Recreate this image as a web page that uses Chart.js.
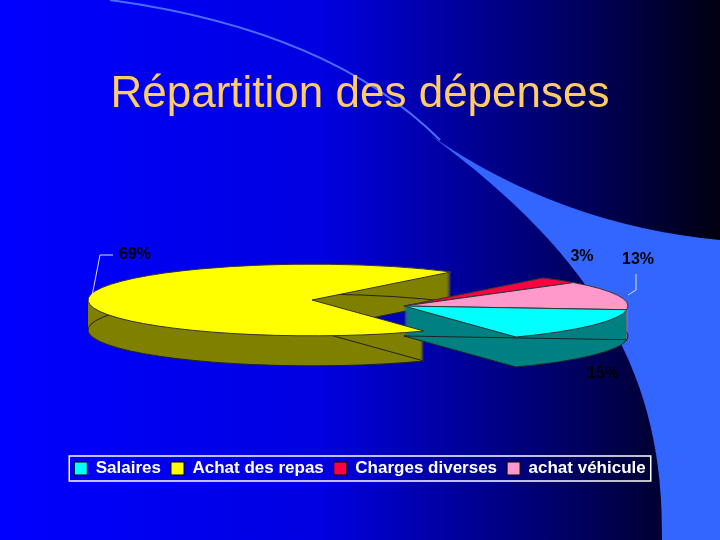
<!DOCTYPE html>
<html>
<head>
<meta charset="utf-8">
<script src="https://cdn.jsdelivr.net/npm/chart.js@4"></script>
<style>
  html, body { margin: 0; padding: 0; background: #0000f0; }
  #wrap { width: 720px; height: 540px; }
</style>
</head>
<body>
<div id="wrap"><canvas id="pie" width="720" height="540"></canvas></div>
<script>
const categories = ['Salaires', 'Achat des repas', 'Charges diverses', 'achat véhicule'];
const percentValues = [15, 69, 3, 13];
const topColors = ['#00ffff', '#ffff00', '#ff0040', '#ff99cc'];
const sideColors = ['#008080', '#808000', '#800020', '#996680'];

// geometry of the flattened 3d pie
const cx = 358, cy = 303, R = 224, squash = 0.16, depth = 30;
const shiftX = [46, -46, 46, 46];
const shiftY = [3, -3, 3, 3];
const drawOrder = [1, 2, 3, 0];
const labelPos = [[603, 374], [135, 255], [582, 257], [638, 260]];

// background of the slide
const slideBackground = {
    id: 'slideBackground',
    beforeDraw(chart) {
        const ctx = chart.ctx;
        const g = ctx.createLinearGradient(0, 0, 720, 0);
        g.addColorStop(0, '#0000ff');
        g.addColorStop(0.45, '#0000e0');
        g.addColorStop(0.8, '#000060');
        g.addColorStop(1, '#000010');
        ctx.save();
        ctx.fillStyle = g;
        ctx.fillRect(0, 0, 720, 540);
        // light blue wedge on the right
        ctx.fillStyle = '#3366ff';
        ctx.beginPath();
        ctx.moveTo(430, 135);
        ctx.bezierCurveTo(600, 260, 665, 380, 662, 540);
        ctx.lineTo(720, 540);
        ctx.lineTo(720, 240);
        ctx.quadraticCurveTo(560, 225, 430, 135);
        ctx.fill();
        // thin light curve at top
        ctx.strokeStyle = '#4a6cff';
        ctx.lineWidth = 2;
        ctx.beginPath();
        ctx.moveTo(110, 0);
        ctx.quadraticCurveTo(330, 30, 440, 140);
        ctx.stroke();
        ctx.restore();
    }
};

function wedgePath(ctx, x, y, a0, a1) {
    ctx.save();
    ctx.translate(x, y);
    ctx.scale(1, squash);
    ctx.beginPath();
    ctx.moveTo(0, 0);
    ctx.arc(0, 0, R, a0, a1);
    ctx.closePath();
    ctx.restore();
}

// draws the pie as a flattened disc with thickness
const pie3d = {
    id: 'pie3d',
    beforeDatasetsDraw(chart) {
        const ctx = chart.ctx;
        const arcs = chart.getDatasetMeta(0).data;
        const slices = drawOrder.map(i => {
            const p = arcs[i].getProps(['startAngle', 'endAngle']);
            return { a0: p.startAngle, a1: p.endAngle, i, x: cx + shiftX[i], y: cy + shiftY[i] };
        });
        ctx.save();
        slices.forEach(s => {
            for (let d = depth; d >= 1; d--) {
                wedgePath(ctx, s.x, s.y + d, s.a0, s.a1);
                ctx.fillStyle = sideColors[s.i];
                ctx.fill();
            }
            wedgePath(ctx, s.x, s.y + depth, s.a0, s.a1);
            ctx.strokeStyle = '#222';
            ctx.lineWidth = 1;
            ctx.stroke();
        });
        slices.forEach(s => {
            wedgePath(ctx, s.x, s.y, s.a0, s.a1);
            ctx.fillStyle = topColors[s.i];
            ctx.fill();
            ctx.strokeStyle = '#333';
            ctx.lineWidth = 1;
            ctx.stroke();
        });

        // percentage labels
        ctx.fillStyle = '#000';
        ctx.font = 'bold 16px "Liberation Sans", Arial';
        ctx.textAlign = 'center';
        ctx.textBaseline = 'middle';
        slices.forEach(s => {
            const [lx, ly] = labelPos[s.i];
            ctx.fillText(percentValues[s.i] + '%', lx, ly);
        });
        ctx.strokeStyle = '#ddd';
        ctx.lineWidth = 1;
        ctx.beginPath();
        ctx.moveTo(113, 255); ctx.lineTo(100, 255); ctx.lineTo(92, 296);
        ctx.moveTo(636, 274); ctx.lineTo(636, 290); ctx.lineTo(628, 295);
        ctx.stroke();
        ctx.restore();
        return false;
    },
    afterDraw(chart) {
        const boxes = chart.legend.legendHitBoxes;
        if (!boxes || !boxes.length) return;
        const ctx = chart.ctx;
        const first = boxes[0], last = boxes[boxes.length - 1];
        ctx.save();
        ctx.strokeStyle = '#ffffff';
        ctx.lineWidth = 1.5;
        ctx.strokeRect(first.left - 5, first.top - 4, last.left + last.width - first.left + 10, first.height + 8);
        ctx.restore();
    }
};

new Chart(document.getElementById('pie'), {
    type: 'pie',
    data: {
        labels: categories,
        datasets: [{
            data: percentValues,
            backgroundColor: topColors,
            borderWidth: 0
        }]
    },
    options: {
        responsive: false,
        animation: false,
        rotation: 96,
        layout: { padding: { left: 60, right: 60, top: 0, bottom: 53 } },
        plugins: {
            tooltip: { enabled: false },
            title: {
                display: true,
                text: 'Répartition des dépenses',
                color: '#ffcc66',
                font: { family: '"Liberation Sans", Arial', size: 44, weight: 'normal' },
                padding: { top: 68, bottom: 20 }
            },
            legend: {
                position: 'bottom',
                labels: {
                    color: '#ffffff',
                    boxWidth: 13,
                    boxHeight: 13,
                    padding: 10,
                    font: { family: '"Liberation Sans", Arial', size: 17, weight: 'bold' },
                    generateLabels(chart) {
                        return categories.map((c, i) => ({
                            text: c, fillStyle: topColors[i], strokeStyle: '#000',
                            lineWidth: 1, fontColor: '#ffffff', index: i
                        }));
                    }
                }
            }
        }
    },
    plugins: [slideBackground, pie3d]
});
</script>
</body>
</html>
